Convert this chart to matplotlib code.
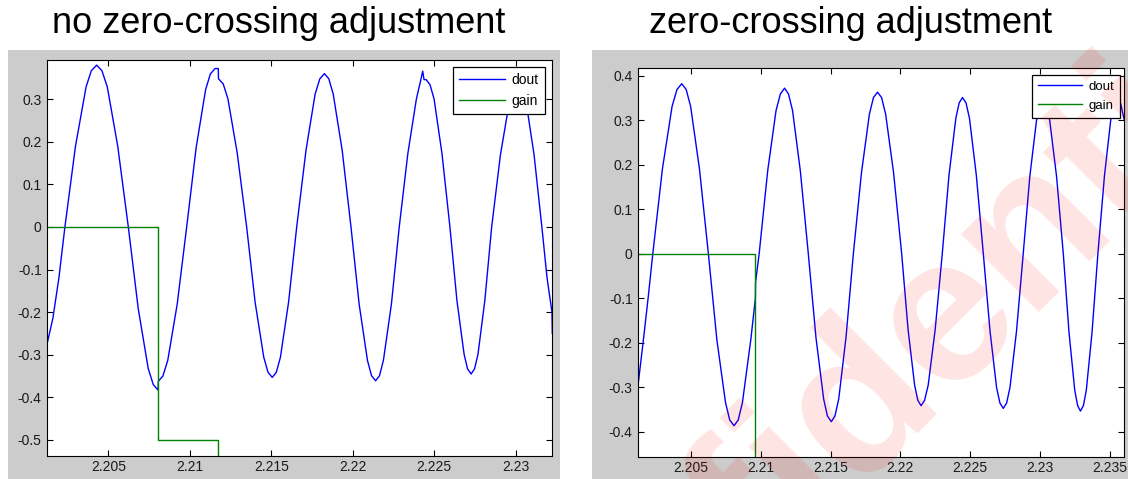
import numpy as np
import matplotlib
matplotlib.use("Agg")
import matplotlib.pyplot as plt
from matplotlib.patches import Rectangle
from matplotlib.ticker import FuncFormatter

plt.rcParams['font.family'] = ['Liberation Sans', 'DejaVu Sans']

# time offsets after 2.2 s, in units of 10 microseconds
left_t = [126, 160, 197, 234, 299, 364, 396, 429, 461, 494, 558, 623,
          684, 745, 776, 806, 807, 835, 865, 923, 981, 1039, 1097, 1126,
          1155, 1175, 1176, 1205, 1234, 1291, 1349, 1401, 1454, 1480, 1506,
          1531, 1556, 1606, 1656, 1713, 1769, 1798, 1826, 1853, 1880, 1935,
          1989, 2039, 2090, 2115, 2140, 2164, 2188, 2237, 2285, 2338, 2390,
          2417, 2429, 2437, 2450, 2474, 2499, 2547, 2596, 2639, 2683, 2704,
          2726, 2747, 2768, 2810, 2852, 2906, 2961, 2988, 3015, 3039, 3063,
          3112, 3160, 3192, 3222, 3224]
left_dout = [-0.272, -0.215, -0.120, 0, 0.190, 0.329, 0.367, 0.380, 0.367,
             0.329, 0.190, 0, -0.192, -0.332, -0.370, -0.383, -0.362, -0.350,
             -0.313, -0.181, 0, 0.186, 0.322, 0.359, 0.372, 0.372, 0.348,
             0.336, 0.301, 0.174, 0, -0.177, -0.306, -0.341, -0.353, -0.341,
             -0.306, -0.177, 0, 0.180, 0.312, 0.348, 0.360, 0.348, 0.312,
             0.180, 0, -0.181, -0.313, -0.349, -0.361, -0.349, -0.313, -0.181,
             0, 0.173, 0.300, 0.345, 0.366, 0.346, 0.346, 0.334, 0.300, 0.173,
             0, -0.173, -0.299, -0.333, -0.345, -0.333, -0.299, -0.173, 0,
             0.170, 0.294, 0.328, 0.340, 0.328, 0.294, 0.170, 0, -0.120,
             -0.200, -0.250]
left_gain_t = [126, 807, 1175, 3224]
left_gain = [0, -0.5, -1.0, -1.0]

right_t = [122, 160, 193, 226, 295, 364, 399, 433, 465, 497, 560, 624,
           685, 747, 777, 808, 838, 868, 928, 961, 962, 988, 1049, 1109,
           1140, 1170, 1198, 1227, 1283, 1340, 1395, 1450, 1477, 1505, 1531,
           1558, 1610, 1663, 1721, 1778, 1807, 1836, 1865, 1894, 1951, 2009,
           2055, 2102, 2125, 2148, 2173, 2199, 2249, 2300, 2348, 2397, 2421,
           2445, 2470, 2495, 2544, 2594, 2642, 2689, 2713, 2737, 2761, 2785,
           2832, 2880, 2927, 2975, 2998, 3022, 3046, 3070, 3119, 3167, 3208,
           3249, 3270, 3290, 3311, 3332, 3373, 3415, 3462, 3508, 3532, 3555,
           3578, 3602]
right_dout = [-0.291, -0.190, -0.098, 0, 0.191, 0.331, 0.369, 0.382, 0.369,
              0.331, 0.191, 0, -0.194, -0.335, -0.374, -0.387, -0.374, -0.335,
              -0.194, -0.100, -0.065, 0, 0.186, 0.322, 0.359, 0.372, 0.359,
              0.322, 0.186, 0, -0.189, -0.327, -0.365, -0.378, -0.365, -0.327,
              -0.189, 0, 0.182, 0.314, 0.351, 0.363, 0.351, 0.314, 0.182, 0,
              -0.171, -0.296, -0.330, -0.342, -0.330, -0.296, -0.171, 0, 0.176,
              0.304, 0.339, 0.351, 0.339, 0.304, 0.176, 0, -0.174, -0.301,
              -0.336, -0.348, -0.336, -0.301, -0.174, 0, 0.173, 0.299, 0.333,
              0.345, 0.333, 0.299, 0.173, 0, -0.177, -0.307, -0.342, -0.354,
              -0.342, -0.307, -0.177, 0, 0.175, 0.303, 0.338, 0.350, 0.338,
              0.303]
right_gain_t = [122, 961, 3602]
right_gain = [0, -1.0, -1.0]

left_yticks = [-0.5, -0.4, -0.3, -0.2, -0.1, 0, 0.1, 0.2, 0.3]
left_xticks = [2.205, 2.21, 2.215, 2.22, 2.225, 2.23]
right_yticks = [-0.4, -0.3, -0.2, -0.1, 0, 0.1, 0.2, 0.3, 0.4]
right_xticks = [2.205, 2.21, 2.215, 2.22, 2.225, 2.23, 2.235]

titles = ['no zero-crossing adjustment', 'zero-crossing adjustment']
labels = ['dout', 'gain']


def secs(offsets):
    return 2.2 + np.array(offsets) * 1e-5


W, H = 1128, 479
fig = plt.figure(figsize=(W / 100, H / 100), dpi=100)
fig.patch.set_facecolor('white')

# grey matlab figure panels, kept behind the axes
for x0, x1 in [(8, 560), (592, 1128)]:
    fig.patches.append(Rectangle((x0 / W, 0), (x1 - x0) / W, 429 / H,
                                 transform=fig.transFigure, facecolor='#cccccc',
                                 edgecolor='none', zorder=-5))

ax1 = fig.add_axes([47.3 / W, 23 / H, 505 / W, 396.5 / H])
ax2 = fig.add_axes([638.3 / W, 21.7 / H, 485.7 / W, 389 / H])

panels = [
    (ax1, left_t, left_dout, left_gain_t, left_gain, (-0.5376, 0.3932),
     left_xticks, left_yticks, (0.9855, 0.981), 10),
    (ax2, right_t, right_dout, right_gain_t, right_gain, (-0.458, 0.4167),
     right_xticks, right_yticks, (0.9918, 0.983), 9.5),
]

fmt = FuncFormatter(lambda v, p: '%g' % round(v, 4))

for ax, t, d, gt, g, ylim, xt, yt, anchor, lfs in panels:
    ax.set_zorder(1)
    ax.plot(secs(t), d, color=(0, 0, 1), lw=1.0, label=labels[0])
    ax.plot(secs(gt), g, color=(0, 0.5, 0), lw=1.0, drawstyle='steps-post',
            label=labels[1])
    ax.set_xlim(secs(t)[0], secs(t)[-1])
    ax.set_ylim(*ylim)
    ax.set_xticks(xt)
    ax.set_yticks(yt)
    ax.xaxis.set_major_formatter(fmt)
    ax.yaxis.set_major_formatter(fmt)
    ax.tick_params(direction='in', top=True, right=True, length=4, width=0.8,
                   labelsize=10, colors='black', labelcolor='#1a1a1a')
    ax.tick_params(axis='x', pad=3)
    ax.tick_params(axis='y', pad=4)
    for s in ax.spines.values():
        s.set_linewidth(0.8)
        s.set_color('black')
    leg = ax.legend(loc='upper right', bbox_to_anchor=anchor, borderaxespad=0,
                    fontsize=lfs, fancybox=False, framealpha=1,
                    edgecolor='black', handlelength=3.3, handletextpad=0.5,
                    labelspacing=0.5, borderpad=0.45)
    leg.get_frame().set_linewidth(0.9)

fig.text(279 / W, 1 - 33 / H, titles[0], fontsize=26, ha='center',
         va='baseline')
fig.text(850.5 / W, 1 - 33 / H, titles[1], fontsize=26, ha='center',
         va='baseline')

# watermark on top of everything
fig.text(0.768, 0.165, 'Confidential', fontsize=150, fontweight='bold',
         color='red', alpha=0.11, rotation=45, rotation_mode='anchor',
         ha='center', va='center', zorder=10)

fig.savefig('out.png', dpi=100)
